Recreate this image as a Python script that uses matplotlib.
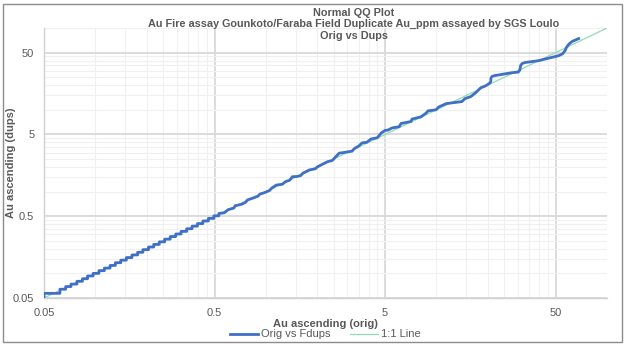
import matplotlib
import matplotlib.pyplot as plt
from matplotlib.patches import Rectangle

# Backend sin pantalla
matplotlib.use('Agg')

# --- datos (valores ordenados, Au ppm) ---
# tramo bajo: escalones por la resolucion del ensayo
orig_bajo = [0.05, 0.05, 0.062, 0.062, 0.067, 0.067, 0.072, 0.072, 0.078, 0.078,
             0.084, 0.084, 0.09, 0.09, 0.097, 0.097, 0.105, 0.105, 0.113, 0.113,
             0.122, 0.122, 0.131, 0.131, 0.141, 0.141, 0.152, 0.152, 0.164, 0.164,
             0.177, 0.177, 0.19, 0.19, 0.205, 0.205, 0.22, 0.22, 0.237, 0.237,
             0.255, 0.255, 0.275, 0.275, 0.296, 0.296, 0.318, 0.318, 0.343, 0.343,
             0.369, 0.369, 0.397, 0.397, 0.427, 0.427, 0.46, 0.46, 0.495, 0.495]
dups_bajo = [0.05, 0.057, 0.057, 0.064, 0.064, 0.069, 0.069, 0.074, 0.074, 0.08,
             0.08, 0.086, 0.086, 0.093, 0.093, 0.1, 0.1, 0.108, 0.108, 0.116,
             0.116, 0.125, 0.125, 0.135, 0.135, 0.145, 0.145, 0.156, 0.156, 0.168,
             0.168, 0.181, 0.181, 0.195, 0.195, 0.21, 0.21, 0.226, 0.226, 0.243,
             0.243, 0.262, 0.262, 0.282, 0.282, 0.303, 0.303, 0.326, 0.326, 0.351,
             0.351, 0.378, 0.378, 0.406, 0.406, 0.437, 0.437, 0.47, 0.47, 0.505]

# tramo medio
orig_medio = [0.53, 0.53, 0.57, 0.6, 0.65, 0.66, 0.72, 0.76, 0.78, 0.85, 0.9, 0.92,
              0.98, 1.05, 1.08, 1.15, 1.25, 1.3, 1.38, 1.43, 1.52, 1.6, 1.65, 1.8,
              1.95, 2.0, 2.11, 2.3, 2.45, 2.55, 2.69, 2.85, 3.2, 3.3, 3.5, 3.67,
              3.9, 4.14, 4.5, 4.74, 5.0, 5.2]
dups_medio = [0.505, 0.54, 0.55, 0.6, 0.63, 0.67, 0.7, 0.74, 0.79, 0.84, 0.88, 0.93,
              0.97, 1.03, 1.1, 1.2, 1.23, 1.32, 1.38, 1.52, 1.53, 1.57, 1.68, 1.84,
              1.9, 2.0, 2.12, 2.32, 2.4, 2.62, 2.95, 3.0, 3.12, 3.35, 3.6, 3.95,
              4.0, 4.4, 4.55, 5.2, 5.6, 5.65]

# tramo alto
orig_alto = [5.49, 6.04, 6.2, 7.1, 7.19, 8.12, 8.69, 8.92, 9.94, 10.3, 11.4, 14.1,
             14.7, 15.9, 17.0, 18.2, 19.5, 20.6, 20.8, 20.9, 21.2, 22.0, 27.7, 30.2,
             30.8, 31.2, 31.8, 33.0, 39.8, 48.0, 52.1, 55.0, 56.8, 58.0, 60.0, 62.5,
             68.2]
dups_alto = [6.0, 6.2, 6.8, 7.2, 7.7, 8.2, 9.1, 9.7, 10.0, 10.8, 11.9, 12.6,
             13.7, 14.5, 16.2, 18.6, 19.7, 21.3, 22.0, 24.6, 25.6, 26.2, 28.4, 28.9,
             30.5, 35.0, 36.8, 37.8, 39.9, 44.0, 45.9, 48.5, 53.0, 58.5, 64.0, 68.5,
             74.2]

linea_11 = [0.05, 100]

marcas_mayores = [0.05, 0.5, 5, 50]
etiquetas = ['0.05', '0.5', '5', '50']

orig = orig_bajo + orig_medio + orig_alto
dups = dups_bajo + dups_medio + dups_alto

plt.rcParams['font.family'] = ['Liberation Sans', 'DejaVu Sans']
gris = '#595959'

fig = plt.figure(figsize=(6.26, 3.45), dpi=100)
ax = fig.add_axes([44 / 626, 1 - 298 / 345, (607 - 44) / 626, (298 - 28) / 345])

ax.plot(orig, dups, color='#3F6FC6', lw=2.0, label='Orig vs Fdups', zorder=3)
ax.plot(linea_11, linea_11, color='#8FDDB0', lw=0.9, label='1:1 Line', zorder=2)

ax.set_xscale('log')
ax.set_yscale('log')
ax.set_xlim(0.05, 100)
ax.set_ylim(0.05, 100)

# lineas menores como en Excel: multiplos del minimo en cada decada
menores = [k * 0.05 * 10 ** d for d in range(3) for k in range(2, 10)] + [100]
for eje in (ax.xaxis, ax.yaxis):
    eje.set_ticks(marcas_mayores, labels=etiquetas)
    eje.set_ticks(menores, minor=True)
    eje.set_minor_formatter(plt.NullFormatter())

ax.grid(which='major', color='#D9D9D9', lw=1.3)
ax.grid(which='minor', color='#F0F0F0', lw=0.8)
ax.set_axisbelow(True)
ax.tick_params(which='both', length=0, labelsize=8, labelcolor=gris)
ax.tick_params(axis='x', pad=7)
ax.tick_params(axis='y', pad=7)

for lado in ('top', 'right'):
    ax.spines[lado].set_visible(False)
for lado in ('left', 'bottom'):
    ax.spines[lado].set_color('#D0D0D0')
    ax.spines[lado].set_linewidth(1.0)

ax.set_xlabel('Au ascending (orig)', fontsize=8, fontweight='bold', color=gris, labelpad=1)
ax.set_ylabel('Au ascending (dups)', fontsize=8, fontweight='bold', color=gris)
ax.yaxis.label.set_va('center')
ax.yaxis.set_label_coords(-0.059, 0.5)

titulos = ['Normal QQ Plot',
           'Au Fire assay Gounkoto/Faraba Field Duplicate Au_ppm assayed by SGS Loulo',
           'Orig vs Dups']
for i, t in enumerate(titulos):
    fig.text(354 / 626, 1 - (12.5 + 11.8 * i) / 345, t, ha='center', va='center',
             fontsize=7.8, fontweight='bold', color=gris)

ax.legend(loc='center', bbox_to_anchor=(0.5, -0.135), ncol=2, frameon=False,
          fontsize=8, labelcolor=gris, handlelength=2.5, columnspacing=1.8,
          handletextpad=0.3)

# borde exterior del grafico
fig.patches.append(Rectangle((3 / 626, 3 / 345), 619 / 626, 338 / 345,
                             transform=fig.transFigure, fill=False,
                             edgecolor='#8C8C8C', lw=1.0))

fig.savefig('out.png', dpi=100)
